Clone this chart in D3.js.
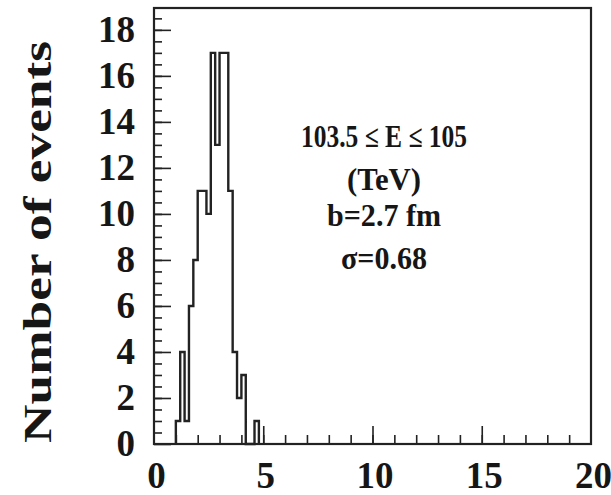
<!DOCTYPE html>
<html>
<head>
<meta charset="utf-8">
<script src="https://cdn.jsdelivr.net/npm/d3@7"></script>
<style>
body { margin: 0; background: #fff; }
.lbl { font-family: "Liberation Serif", "Times New Roman", serif; font-weight: bold; fill: #161616; }
</style>
</head>
<body>
<div id="histVis"></div>
<script>
//###########################################################################
//#                          Chart data                                     #
//###########################################################################

var binWidth = 0.2;
var binStarts = [1.0, 1.2, 1.4, 1.6, 1.8, 2.0, 2.2, 2.4, 2.6, 2.8, 3.0, 3.2, 3.4, 3.6, 3.8, 4.0, 4.2, 4.4, 4.6];
var binCounts = [1,   4,   1,   6,   8,   11,  11,  10,  17,  13,  17,  17,  11,  4,   2,   3,   0,   0,   1];

var xTickLabels = [0, 5, 10, 15, 20];
var yTickLabels = [0, 2, 4, 6, 8, 10, 12, 14, 16, 18];
var yTitle = "Number of events";
var noteLines = ["103.5 \u2264  E \u2264 105", "(TeV)", "b=2.7 fm", "\u03c3=0.68"];

//###########################################################################
//#                          Histogram View                                 #
//###########################################################################

generateHistVis();

function generateHistVis(){
	var width = 611;
	var height = 495;
	var left = 154, right = 591, top = 8, bottom = 444;
	var ink = "#222";

	var svg = d3.select("#histVis")
				.append("svg")
				.attr("width",width)
				.attr("height",height);

	var xscale = d3.scaleLinear().domain([0,20]).range([left,right]);
	var yscale = d3.scaleLinear().domain([0,18.95]).range([bottom,top]);

	//minor and major ticks, pointing inside the frame
	var yMinor = d3.axisRight(yscale).tickValues(d3.range(0.5,19,0.5)).tickSize(8).tickFormat("");
	var yMajor = d3.axisRight(yscale).tickValues(yTickLabels).tickSize(17).tickFormat("");
	var xMinor = d3.axisTop(xscale).tickValues(d3.range(1,20,1)).tickSize(9).tickFormat("");
	var xMajor = d3.axisTop(xscale).tickValues([5,10,15]).tickSize(18).tickFormat("");

	[yMinor,yMajor].forEach(function(a){
		svg.append("g").attr("transform","translate("+left+",0)").call(a);
	});
	[xMinor,xMajor].forEach(function(a){
		svg.append("g").attr("transform","translate(0,"+bottom+")").call(a);
	});
	svg.selectAll(".domain").remove();
	svg.selectAll(".tick line").attr("stroke",ink).attr("stroke-width",1.6);

	//histogram outline (step line)
	var pts = [[binStarts[0],0]];
	for(var i = 0; i < binStarts.length; i++){
		pts.push([binStarts[i],binCounts[i]]);
	}
	pts.push([binStarts[binStarts.length-1] + binWidth,0]);

	var line = d3.line()
		.x(function(d) { return xscale(d[0]); })
		.y(function(d) { return yscale(d[1]); })
		.curve(d3.curveStepAfter);

	svg.append("path")
		.datum(pts)
		.attr("d",line)
		.attr("fill","none")
		.attr("stroke",ink)
		.attr("stroke-width",2.4);

	//frame
	svg.append("rect")
		.attr("x",left).attr("y",top)
		.attr("width",right-left).attr("height",bottom-top)
		.attr("fill","none")
		.attr("stroke",ink)
		.attr("stroke-width",2.2);

	//tick labels
	var yLab = svg.append("g").attr("transform","translate("+left+",0)")
		.call(d3.axisLeft(yscale).tickValues(yTickLabels).tickSize(0).tickPadding(19));
	var xLab = svg.append("g").attr("transform","translate(2,"+bottom+")")
		.call(d3.axisBottom(xscale).tickValues(xTickLabels).tickSize(0).tickPadding(18));
	yLab.select(".domain").remove();
	xLab.select(".domain").remove();
	svg.selectAll(".tick text")
		.attr("class","lbl")
		.style("font-size","37px")
		.attr("fill",null);

	//y title
	svg.append("text")
		.attr("class","lbl")
		.attr("transform","translate(51,242) rotate(-90)")
		.attr("text-anchor","middle")
		.attr("textLength",402)
		.attr("lengthAdjust","spacingAndGlyphs")
		.style("font-size","41px")
		.text(yTitle);

	//annotation block
	var noteY = [147, 190, 226, 269];
	var noteW = [166, 74, 114, 86];
	svg.selectAll("text.note")
		.data(noteLines).enter().append("text")
			.attr("class","lbl note")
			.attr("x",384)
			.attr("y",function(d,i) { return noteY[i]; })
			.attr("text-anchor","middle")
			.attr("textLength",function(d,i) { return noteW[i]; })
			.attr("lengthAdjust","spacingAndGlyphs")
			.style("font-size","31px")
			.text(function(d) { return d; });
}
</script>
</body>
</html>
